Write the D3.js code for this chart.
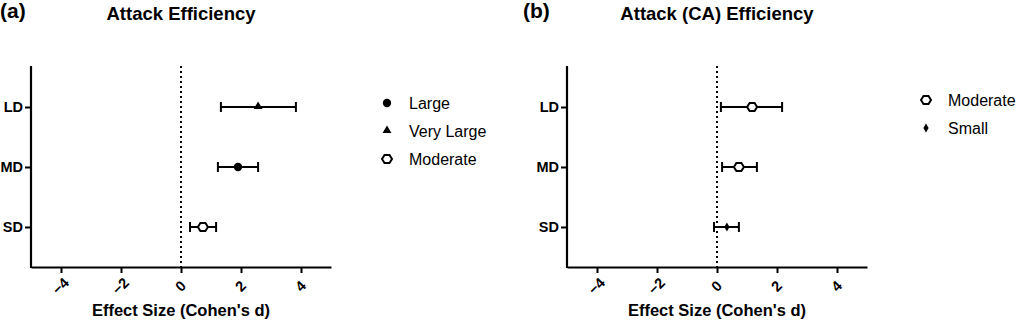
<!DOCTYPE html>
<html>
<head>
<meta charset="utf-8">
<script src="https://cdn.jsdelivr.net/npm/d3@7"></script>
<style>
  body { margin: 0; background: #fff; }
  svg { display: block; font-family: "Liberation Sans", Arial, sans-serif; }
</style>
</head>
<body>
<svg id="chart" width="1017" height="322"></svg>
<script>
// ── Data ──────────────────────────────────────────────────────────────────
const groups = ['LD', 'MD', 'SD'];
const xTicks = [-4, -2, 0, 2, 4];

// Panel (a) Attack Efficiency
const effA = [2.57, 1.90, 0.73];
const loA  = [1.33, 1.23, 0.30];
const hiA  = [3.83, 2.57, 1.17];
const magA = ['Very Large', 'Large', 'Moderate'];
const legendA = ['Large', 'Very Large', 'Moderate'];

// Panel (b) Attack (CA) Efficiency
const effB = [1.17, 0.73, 0.33];
const loB  = [0.13, 0.17, -0.10];
const hiB  = [2.17, 1.33, 0.73];
const magB = ['Moderate', 'Moderate', 'Small'];
const legendB = ['Moderate', 'Small'];

const svg = d3.select('#chart');
const FONT = '"Liberation Sans", Arial, sans-serif';

// ── Marker shapes by magnitude ───────────────────────────────────────────
function hexPath(w, h) {
  return `M${-w},0L${-w / 2},${-h}L${w / 2},${-h}L${w},0L${w / 2},${h}L${-w / 2},${h}Z`;
}

function drawMarker(sel, mag) {
  if (mag === 'Large') {
    sel.append('circle').attr('r', 4.2).attr('fill', '#000');
  } else if (mag === 'Very Large') {
    sel.append('path').attr('d', d3.symbol(d3.symbolTriangle, 34)())
      .attr('transform', 'translate(0,-0.5)').attr('fill', '#000');
  } else if (mag === 'Moderate') {
    sel.append('path').attr('d', hexPath(5, 4))
      .attr('fill', '#fff').attr('stroke', '#000').attr('stroke-width', 2);
  } else {
    sel.append('path').attr('d', d3.symbol(d3.symbolDiamond, 24)()).attr('fill', '#000');
  }
}

// ── Panel ─────────────────────────────────────────────────────────────────
function panel(o) {
  const x = d3.scaleLinear().domain([-5, 5]).range([o.left, o.left + 300]);
  const y = d3.scalePoint().domain(groups).range([67, 267]).padding(0.667);
  const g = svg.append('g');
  const cx = x(0);

  // titles
  g.append('text').attr('x', o.tagX).attr('y', 18)
    .attr('font-size', 21).attr('font-weight', 'bold').text(o.tag);
  g.append('text').attr('x', cx).attr('y', 20).attr('text-anchor', 'middle')
    .attr('font-size', 18.5).attr('font-weight', 'bold').text(o.title);

  // zero reference line
  g.append('line').attr('x1', cx).attr('x2', cx).attr('y1', 66).attr('y2', 267)
    .attr('stroke', '#000').attr('stroke-width', 2).attr('stroke-dasharray', '2,3');

  // x axis
  const xa = g.append('g').attr('transform', 'translate(0,267)')
    .call(d3.axisBottom(x).tickValues(xTicks).tickSize(6).tickSizeOuter(0).tickFormat(d3.format('d')));
  xa.select('.domain').attr('stroke-width', 2.2);
  xa.selectAll('.tick line').attr('stroke-width', 2);
  xa.selectAll('.tick text')
    .attr('font-size', 14.5).attr('font-weight', 'bold').attr('font-family', FONT)
    .attr('text-anchor', 'middle').attr('dy', null).attr('y', null)
    .attr('transform', 'translate(0,20) rotate(-45)')
    .attr('dominant-baseline', 'middle');

  g.append('text').attr('x', cx).attr('y', 316).attr('text-anchor', 'middle')
    .attr('font-size', 16.5).attr('font-weight', 'bold').text("Effect Size (Cohen's d)");

  // y axis
  const ya = g.append('g').attr('transform', `translate(${o.left},0)`)
    .call(d3.axisLeft(y).tickSize(6).tickSizeOuter(0).tickPadding(2));
  ya.select('.domain').attr('d', 'M0,66V268').attr('stroke-width', 2.2);
  ya.selectAll('.tick line').attr('stroke-width', 2);
  ya.selectAll('.tick text').attr('font-size', 14.5).attr('font-weight', 'bold')
    .attr('font-family', FONT);

  // error bars + markers
  groups.forEach((grp, i) => {
    const yy = y(grp);
    const row = g.append('g');
    row.append('line').attr('x1', x(o.lo[i])).attr('x2', x(o.hi[i]))
      .attr('y1', yy).attr('y2', yy).attr('stroke', '#000').attr('stroke-width', 2);
    [o.lo[i], o.hi[i]].forEach(v => row.append('line')
      .attr('x1', x(v)).attr('x2', x(v)).attr('y1', yy - 5).attr('y2', yy + 5)
      .attr('stroke', '#000').attr('stroke-width', 2));
    drawMarker(row.append('g').attr('transform', `translate(${x(o.eff[i])},${yy})`), o.mag[i]);
  });

  // legend
  o.legend.forEach((lab, i) => {
    const ly = o.legY + i * 28;
    drawMarker(g.append('g').attr('transform', `translate(${o.legX},${ly})`), lab);
    g.append('text').attr('x', o.legX + 22).attr('y', ly + 6)
      .attr('font-size', 16).text(lab);
  });
}

panel({ left: 31, tag: '(a)', tagX: 0, title: 'Attack Efficiency',
  eff: effA, lo: loA, hi: hiA, mag: magA, legend: legendA, legX: 387, legY: 103 });
panel({ left: 567, tag: '(b)', tagX: 523, title: 'Attack (CA) Efficiency',
  eff: effB, lo: loB, hi: hiB, mag: magB, legend: legendB, legX: 926, legY: 100 });
</script>
</body>
</html>
